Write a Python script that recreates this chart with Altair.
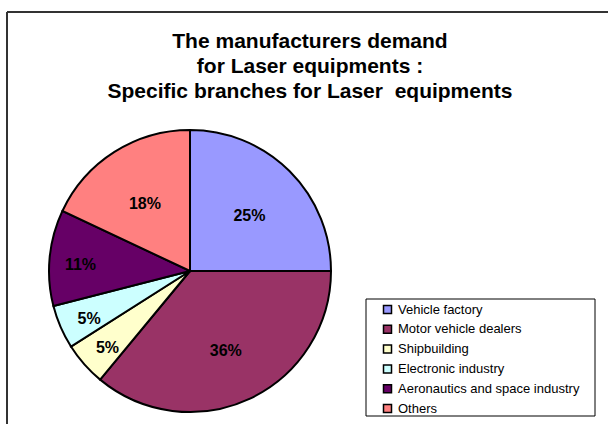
import altair as alt
import pandas as pd

categories = ["Vehicle factory", "Motor vehicle dealers", "Shipbuilding",
              "Electronic industry", "Aeronautics and space industry", "Others"]
shares = [25, 36, 5, 5, 11, 18]
colors = ["#9999FF", "#993366", "#FFFFCC", "#CCFFFF", "#660066", "#FF8080"]
title_lines = ["The manufacturers demand", "for Laser equipments :",
               "Specific branches for Laser\u00a0 equipments"]

FONT = "Liberation Sans"

df = pd.DataFrame({"category": categories, "share": shares,
                   "order": list(range(len(categories)))})
one = pd.DataFrame({"a": [0]})

CX, CY, R = 190, 271, 141

pie = alt.Chart(df).mark_arc(x=CX, y=CY, outerRadius=R, stroke="black", strokeWidth=2).encode(
    theta=alt.Theta("share:Q", stack=True),
    order=alt.Order("order:Q"),
    color=alt.Color(
        "category:N",
        scale=alt.Scale(domain=categories, range=colors),
        legend=alt.Legend(
            orient="none", legendX=381, legendY=303, title=None,
            symbolType="square", symbolSize=64, symbolStrokeColor="black",
            symbolStrokeWidth=1.5, symbolOpacity=1,
            labelFont=FONT, labelFontSize=13, labelColor="black",
            rowPadding=4.8, labelOffset=4, padding=0, labelLimit=300,
        ),
    ),
)

labels = alt.Chart(df).transform_window(
    cum="sum(share)", sort=[alt.SortField("order")],
).transform_joinaggregate(
    total="sum(share)",
).transform_calculate(
    mid="(datum.cum - datum.share / 2) / datum.total * 2 * PI",
    label="datum.share + '%'",
    r="datum.share < 15 ? 110 : 84",
).mark_text(x=CX, y=CY, dy=4, font=FONT, fontSize=16, fontWeight="bold",
            color="black").encode(
    theta=alt.Theta("mid:Q", scale=None),
    radius=alt.Radius("r:Q", scale=None),
    text="label:N",
)

legend_box = alt.Chart(one).mark_rect(fill="white", stroke="black", strokeWidth=1).encode(
    x=alt.value(366), x2=alt.value(595), y=alt.value(299), y2=alt.value(416)
)

frame_top = alt.Chart(one).mark_rule(color="#333333", strokeWidth=2).encode(
    x=alt.value(7), x2=alt.value(620), y=alt.value(12)
)
frame_left = alt.Chart(one).mark_rule(color="#333333", strokeWidth=2).encode(
    x=alt.value(7), y=alt.value(12), y2=alt.value(440)
)

title = alt.Chart(one).mark_text(
    text=title_lines, font=FONT, fontSize=21, fontWeight="bold", color="black",
    lineHeight=25, baseline="alphabetic", align="center",
).encode(x=alt.value(310), y=alt.value(48))

chart = alt.layer(frame_top, frame_left, title, legend_box, pie, labels).properties(
    width=608, height=424,
    autosize=alt.AutoSizeParams(type="none"),
    padding=0,
    background="white",
).configure_view(stroke=None)

chart.save("out.html", embed_options={"renderer": "svg", "actions": False})
